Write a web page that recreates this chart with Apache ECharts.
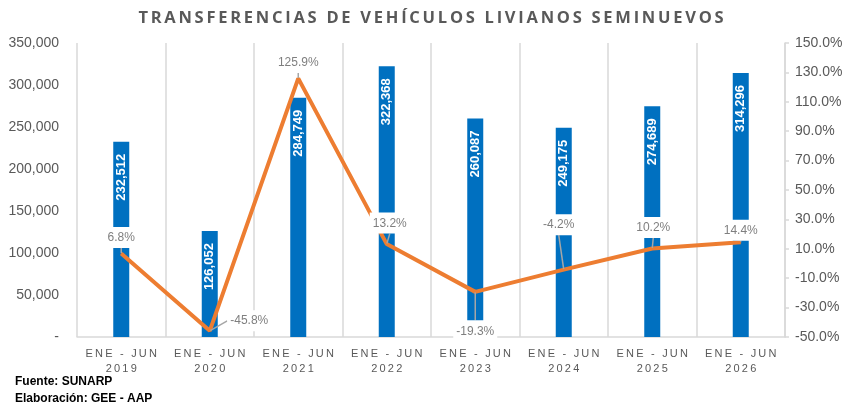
<!DOCTYPE html>
<html><head><meta charset="utf-8">
<script src="https://cdn.jsdelivr.net/npm/echarts@6/dist/echarts.min.js"></script>
<style>html,body{margin:0;padding:0;background:#fff}#c{width:862px;height:406px}</style>
</head><body><div id="c"></div>
<script>
const titleText = 'TRANSFERENCIAS DE VEHÍCULOS LIVIANOS SEMINUEVOS';
const periods = ['ENE - JUN','ENE - JUN','ENE - JUN','ENE - JUN','ENE - JUN','ENE - JUN','ENE - JUN','ENE - JUN'];
const years = ['2019','2020','2021','2022','2023','2024','2025','2026'];
const transfers = [232512, 126052, 284749, 322368, 260087, 249175, 274689, 314296];
const growthPct = [6.8, -45.8, 125.9, 13.2, -19.3, -4.2, 10.2, 14.4];
const footerLines = ['Fuente: SUNARP', 'Elaboración: GEE - AAP'];

const categories = periods.map((p, i) => p + '\n' + years[i]);
const spread = (s, sep) => s.split('\n').map(l => l.split('').join(sep)).join('\n');

// label placement styling for the growth labels (position + nudge)
const growthLabelPlace = [
  {position:'top', dx:0, dy:0},
  {position:'right', dx:12, dy:-10},
  {position:'top', dx:0, dy:0},
  {position:'top', dx:3, dy:-5},
  {position:'bottom', dx:0, dy:23},
  {position:'top', dx:-5, dy:-29},
  {position:'top', dx:1, dy:-5},
  {position:'top', dx:0, dy:4}
];

const chart = echarts.init(document.getElementById('c'), null, {renderer:'canvas'});
const gray = '#595959';
chart.setOption({
  animation: false,
  textStyle: {fontFamily: 'Liberation Sans, Arial, sans-serif'},
  title: {
    text: spread(titleText, '\u2009'),
    left: 'center', top: 5,
    textStyle: {fontFamily: 'Open Sans, Liberation Sans, sans-serif', fontSize: 16.5, fontWeight: 'bold', color: gray}
  },
  grid: {left: 77, right: 77, top: 43, bottom: 69},
  xAxis: {
    type: 'category',
    data: categories,
    axisLine: {lineStyle: {color: '#d9d9d9', width: 1.5}},
    axisTick: {show: false},
    splitLine: {show: true, interval: 0, lineStyle: {color: '#d9d9d9', width: 1.5}},
    axisLabel: {
      interval: 0, margin: 9, color: gray, fontSize: 11, lineHeight: 15,
      formatter: v => spread(v, '\u2009')
    }
  },
  yAxis: [
    {
      type: 'value', min: 0, max: 350000, interval: 50000,
      axisLine: {show: false}, axisTick: {show: false}, splitLine: {show: false},
      axisLabel: {color: gray, fontSize: 14, margin: 18,
        formatter: v => v === 0 ? '-' : v.toLocaleString('en-US')}
    },
    {
      type: 'value', min: -50, max: 150, interval: 20,
      axisLine: {show: true, lineStyle: {color: '#d9d9d9', width: 1.5}},
      axisTick: {show: true, length: 4, lineStyle: {color: '#d9d9d9', width: 1.5}},
      splitLine: {show: false},
      axisLabel: {color: gray, fontSize: 14, margin: 10,
        formatter: v => v.toFixed(1) + '%'}
    }
  ],
  series: [
    {
      type: 'bar', yAxisIndex: 0, data: transfers, barWidth: 16, z: 2,
      itemStyle: {color: '#0070C0'},
      label: {
        show: true, position: 'insideTop', rotate: 90, distance: 12,
        align: 'right', verticalAlign: 'middle',
        color: '#fff', fontWeight: 'bold', fontSize: 13,
        formatter: p => p.value.toLocaleString('en-US')
      }
    },
    {
      type: 'line', yAxisIndex: 1, z: 5,
      data: growthPct.map((v, i) => ({value: v, label: {position: growthLabelPlace[i].position}})),
      symbol: 'circle', symbolSize: 1, showSymbol: true,
      itemStyle: {color: '#ED7D31'},
      lineStyle: {color: '#ED7D31', width: 4},
      label: {
        show: true, distance: 5, color: '#7f7f7f', fontSize: 12,
        backgroundColor: '#fff', padding: [5, 3, 4, 3],
        formatter: p => p.value.toFixed(1) + '%'
      },
      labelLine: {show: true, lineStyle: {color: '#a6a6a6', width: 1.5}},
      labelLayout: p => ({dx: growthLabelPlace[p.dataIndex].dx, dy: growthLabelPlace[p.dataIndex].dy})
    }
  ],
  graphic: footerLines.map((t, i) => ({
    type: 'text', left: 15, top: 376 + i * 17,
    style: {text: t, fill: '#000', font: 'bold 12px Liberation Sans, Arial, sans-serif'}
  }))
});
</script></body></html>
